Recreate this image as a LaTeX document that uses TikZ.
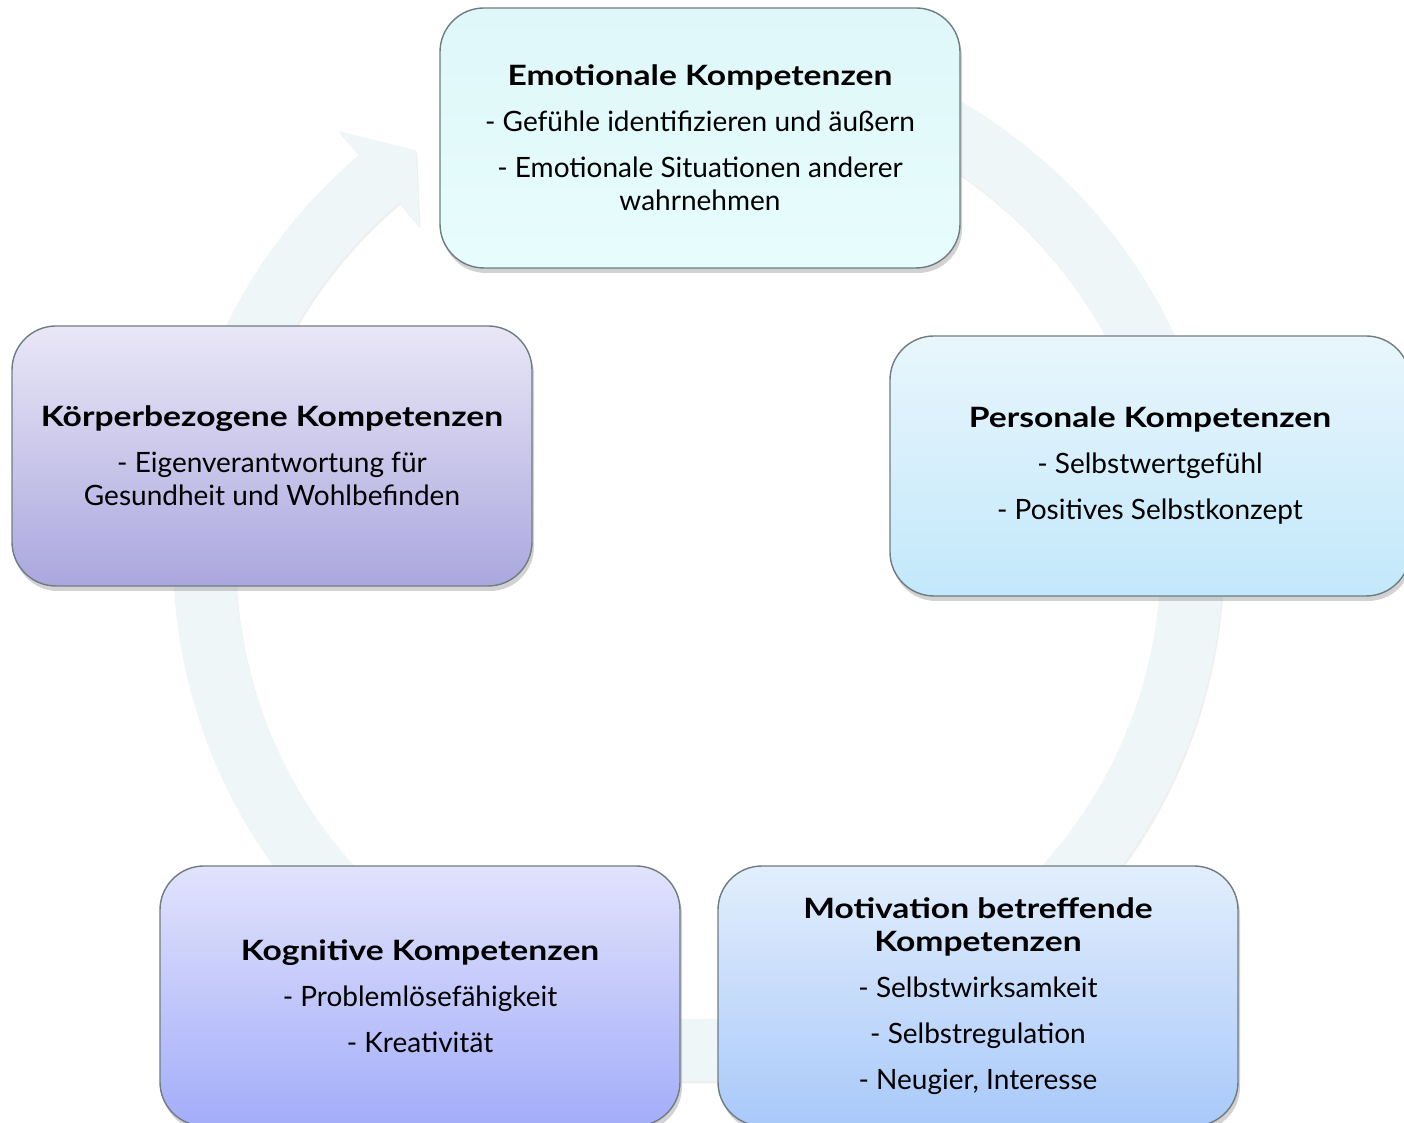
\documentclass[tikz,border=0pt]{standalone}
\usepackage{fontspec}
\setmainfont{Lato}[BoldFeatures={FakeStretch=1.2}]
\usetikzlibrary{calc,shadows}
\definecolor{ringfill}{HTML}{EFF6F8}
\definecolor{boxline}{HTML}{6F7D82}
\definecolor{emotop}{HTML}{DFF7F9}
\definecolor{emobot}{HTML}{E7FDFD}
\definecolor{perstop}{HTML}{E9F6FC}
\definecolor{persbot}{HTML}{C2E8FB}
\definecolor{motitop}{HTML}{E2EEFC}
\definecolor{motibot}{HTML}{A9C9FA}
\definecolor{kogtop}{HTML}{E1E3FC}
\definecolor{kogbot}{HTML}{A3ADF9}
\definecolor{koerptop}{HTML}{E9E7F6}
\definecolor{koerpbot}{HTML}{ABA7DF}

\begin{document}
\begin{tikzpicture}[x=0.5pt, y=0.5pt,
  box/.style={draw=boxline, line width=0.7pt, rounded corners=22pt,
              minimum width=260pt, minimum height=130pt, inner sep=0pt,
              align=center, font=\fontsize{14}{16.5}\selectfont,
              drop shadow={shadow xshift=1pt, shadow yshift=-2.5pt, opacity=0.35}},
  emo/.style={box, top color=emotop, bottom color=emobot},
  pers/.style={box, top color=perstop, bottom color=persbot},
  moti/.style={box, top color=motitop, bottom color=motibot},
  kog/.style={box, top color=kogtop, bottom color=kogbot},
  koerp/.style={box, top color=koerptop, bottom color=koerpbot},
  ring/.style={fill=ringfill,
               drop shadow={shadow xshift=0.6pt, shadow yshift=-1.2pt, opacity=0.12}}
]
\useasboundingbox (0,0) rectangle (1404,1123);
\fill[white] (0,0) rectangle (1404,1123);
\coordinate (c) at (698,567);

% cycle ring with arrow head
\path[ring] ($(c)+(100:525)$) arc[start angle=100, end angle=-229.8, radius=525]
  -- ($(c)+(130.2:556)$) -- ($(c)+(124.8:494)$) -- ($(c)+(130.2:432)$)
  -- ($(c)+(130.2:463)$) arc[start angle=-229.8, end angle=100, radius=463] -- cycle;

\node[emo] (emo) at (700,985)
  {\textbf{Emotionale Kompetenzen}\\[6.5pt]
   - Gefühle identifizieren und äußern\\[6.5pt]
   - Emotionale Situationen anderer\\wahrnehmen};
\node[pers] (pers) at (1150,657)
  {\textbf{Personale Kompetenzen}\\[6.5pt]
   - Selbstwertgefühl\\[6.5pt]
   - Positives Selbstkonzept};
\node[moti] (moti) at (978,127)
  {\textbf{Motivation betreffende}\\\textbf{Kompetenzen}\\[6.5pt]
   - Selbstwirksamkeit\\[6.5pt]
   - Selbstregulation\\[6.5pt]
   - Neugier, Interesse};
\node[kog] (kog) at (420,127)
  {\textbf{Kognitive Kompetenzen}\\[6.5pt]
   - Problemlösefähigkeit\\[6.5pt]
   - Kreativität};
\node[koerp] (koerp) at (272,667)
  {\textbf{Körperbezogene Kompetenzen}\\[6.5pt]
   - Eigenverantwortung für\\Gesundheit und Wohlbefinden};
\end{tikzpicture}
\end{document}
